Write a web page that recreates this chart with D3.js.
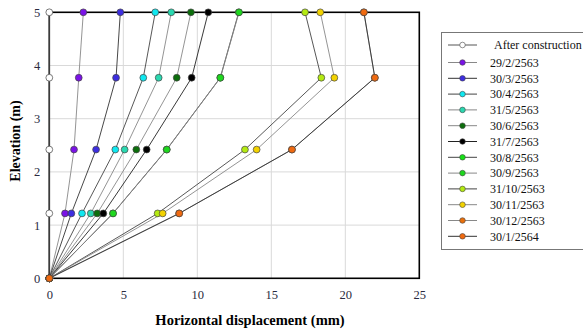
<!DOCTYPE html>
<html><head><meta charset="utf-8">
<script src="https://cdn.jsdelivr.net/npm/d3@7"></script>
<style>body{margin:0;background:#fff;}svg{display:block;} text{font-family:"Liberation Serif","Times New Roman",serif;}</style>
</head><body>
<svg id="c" width="583" height="331"></svg>
<script>
const elevations = [0, 1.22, 2.42, 3.77, 5];
const seriesNames = ["After construction","29/2/2563","30/3/2563","30/4/2563","31/5/2563","30/6/2563","31/7/2563","30/8/2563","30/9/2563","31/10/2563","30/11/2563","30/12/2563","30/1/2564"];
const displacement_after = [0,0,0,0,0];
const displacement_2902 = [0,1.06,1.67,1.99,2.30];
const displacement_3003 = [0,1.49,3.16,4.51,4.80];
const displacement_3004 = [0,2.21,4.46,6.35,7.16];
const displacement_3105 = [0,2.80,5.09,7.39,8.24];
const displacement_3006 = [0,3.24,5.88,8.61,9.57];
const displacement_3107 = [0,3.65,6.58,9.62,10.74];
const displacement_3008 = [0,4.30,7.93,11.55,12.80];
const displacement_3009 = [0,4.31,7.94,11.56,12.82];
const displacement_3110 = [0,7.32,13.22,18.38,17.28];
const displacement_3011 = [0,7.66,14.01,19.26,18.31];
const displacement_3012 = [0,8.77,16.39,21.99,21.25];
const displacement_3001 = [0,8.78,16.40,22.00,21.26];
const allValues = [displacement_after,displacement_2902,displacement_3003,displacement_3004,displacement_3105,displacement_3006,displacement_3107,displacement_3008,displacement_3009,displacement_3110,displacement_3011,displacement_3012,displacement_3001];
const markerColors = ["#ffffff","#7a12e6","#3d2ee0","#10e8f0","#2ad8b0","#0c6e0c","#000000","#18e018","#1ed81e","#b4ea12","#f2d200","#e8700c","#f06a10"];
const lineColors = ["#555","#888","#333","#444","#888","#888","#222","#444","#888","#444","#888","#888","#333"];
const xTicks = [0,5,10,15,20,25];
const yTicks = [0,1,2,3,4,5];

const FONT = '"Liberation Serif","Times New Roman",serif';
const svg = d3.select("#c");
const x = d3.scaleLinear().domain([0,25]).range([49.3,419.3]);
const y = d3.scaleLinear().domain([0,5]).range([278.3,12.3]);

// grid
svg.append("g").selectAll("line").data(xTicks.filter(d=>d>0&&d<25)).join("line")
  .attr("x1",d=>x(d)).attr("x2",d=>x(d)).attr("y1",y(0)).attr("y2",y(5))
  .attr("stroke","#d9d9d9").attr("stroke-width",1);
svg.append("g").selectAll("line").data(yTicks.filter(d=>d>0&&d<5)).join("line")
  .attr("y1",d=>y(d)).attr("y2",d=>y(d)).attr("x1",x(0)).attr("x2",x(25))
  .attr("stroke","#d9d9d9").attr("stroke-width",1);

// frame
svg.append("rect").attr("x",x(0)).attr("y",y(5)).attr("width",x(25)-x(0)).attr("height",y(0)-y(5))
  .attr("fill","none").attr("stroke","#000").attr("stroke-width",1.6);

// axes labels
const xAxis = d3.axisBottom(x).tickValues(xTicks).tickFormat(d3.format("d")).tickSize(0).tickPadding(12);
const gx = svg.append("g").attr("transform",`translate(0,${y(0)})`).call(xAxis);
gx.attr("font-family",FONT);
gx.select(".domain").remove();
gx.selectAll("text").style("font-family",FONT).attr("font-size",12.5).attr("fill","#2a2a40");
const yAxis = d3.axisLeft(y).tickValues(yTicks).tickFormat(d3.format("d")).tickSize(0).tickPadding(9);
const gy = svg.append("g").attr("transform",`translate(${x(0)},0)`).call(yAxis);
gy.attr("font-family",FONT);
gy.select(".domain").remove();
gy.selectAll("text").style("font-family",FONT).attr("font-size",12.5).attr("fill","#2a2a40");

// series lines
const line = d3.line().x(d=>x(d[0])).y(d=>y(d[1]));
allValues.forEach((vals,i)=>{
  const pts = vals.map((v,j)=>[v,elevations[j]]);
  svg.append("path").attr("d",line(pts)).attr("fill","none").attr("stroke",lineColors[i]).attr("stroke-width",0.9);
});
allValues.forEach((vals,i)=>{
  svg.append("g").selectAll("circle").data(vals.map((v,j)=>[v,elevations[j]])).join("circle")
    .attr("cx",d=>x(d[0])).attr("cy",d=>y(d[1])).attr("r",3.4)
    .attr("fill",markerColors[i]).attr("stroke","#444").attr("stroke-width",0.7);
});

// titles
svg.append("text").attr("x",250).attr("y",325).attr("text-anchor","middle")
  .style("font-family",FONT).attr("font-weight","bold").attr("font-size",14.5)
  .text("Horizontal displacement (mm)");
svg.append("text").attr("transform","translate(20,141) rotate(-90)").attr("text-anchor","middle")
  .style("font-family",FONT).attr("font-weight","bold").attr("font-size",14)
  .text("Elevation (m)");

// legend
svg.append("rect").attr("x",441.5).attr("y",32.5).attr("width",160).attr("height",217)
  .attr("fill","#fff").attr("stroke","#777").attr("stroke-width",1);
const legRows = seriesNames.map((n,i)=> i===0 ? 45 : 62.5 + (i-1)*15.8);
const lg = svg.append("g").selectAll("g").data(seriesNames).join("g")
  .attr("transform",(d,i)=>`translate(0,${legRows[i]})`);
lg.append("line").attr("x1",448).attr("x2",477).attr("y1",0).attr("y2",0)
  .attr("stroke",(d,i)=>lineColors[i]).attr("stroke-width",1);
lg.append("circle").attr("cx",462.5).attr("cy",0).attr("r",2.8)
  .attr("fill",(d,i)=>markerColors[i]).attr("stroke","#444").attr("stroke-width",0.6);
lg.append("text").attr("x",(d,i)=>i===0?494:490).attr("y",4.2)
  .style("font-family",FONT).attr("font-size",12).attr("fill","#111")
  .text(d=>d);
</script>
</body></html>
